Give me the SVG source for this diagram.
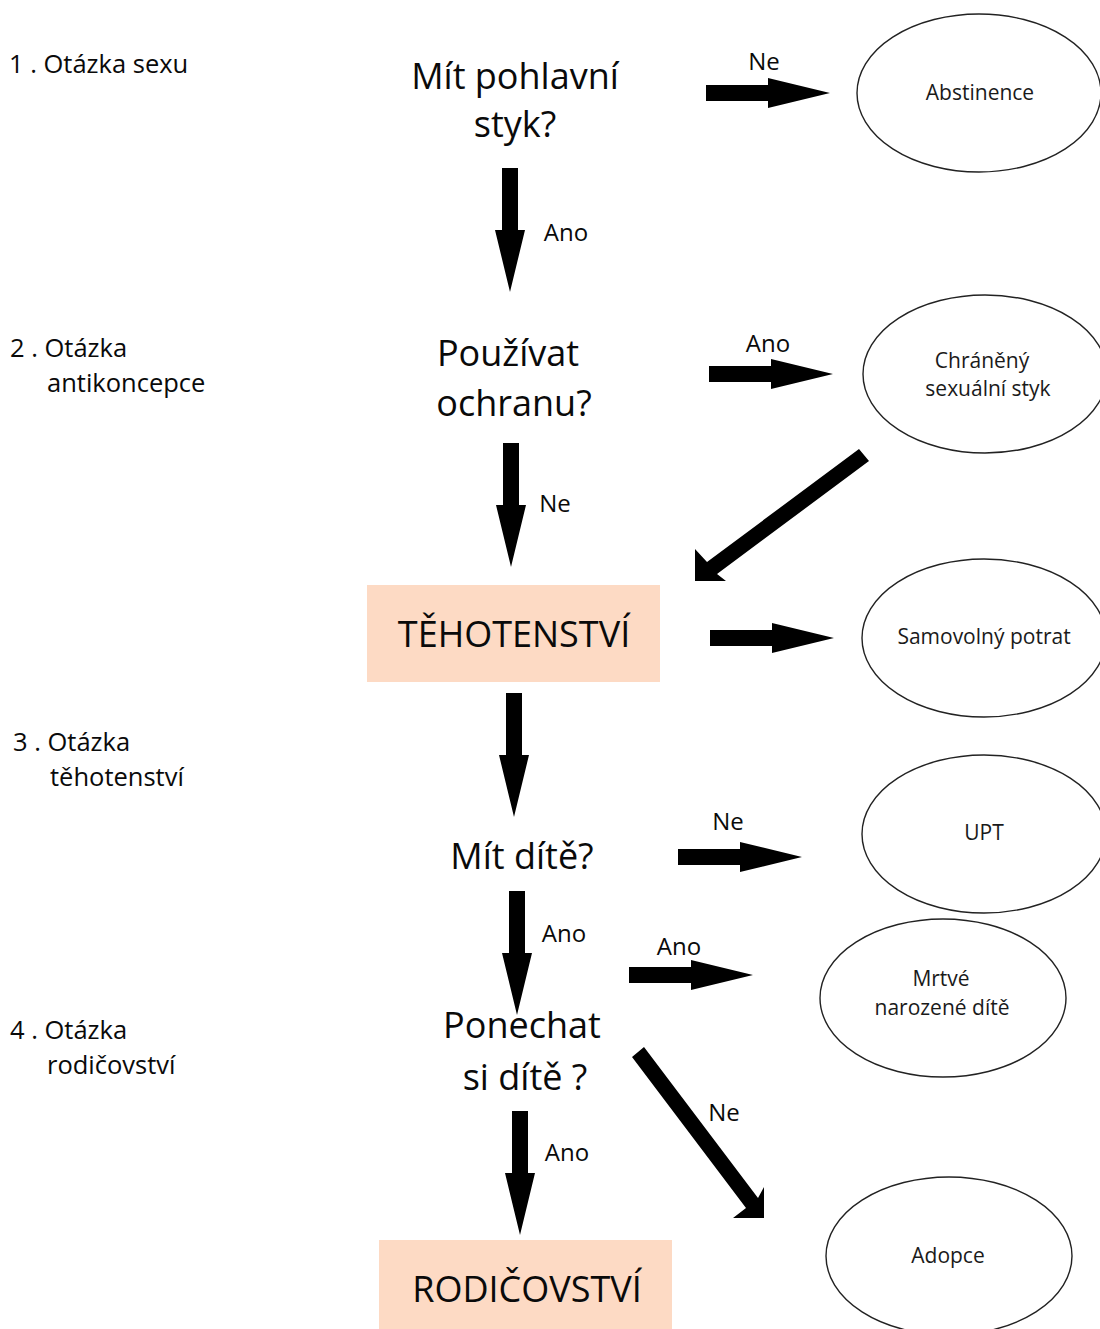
<svg xmlns="http://www.w3.org/2000/svg" xmlns:xlink="http://www.w3.org/1999/xlink" width="1100" height="1329" viewBox="0 0 1100 1329">
<style>
text{font-family:"Open Sans","Noto Sans",sans-serif;fill:#0a0a0a}
.side{font-size:25.5px;text-anchor:start}
.q{font-size:36px;text-anchor:middle}
.lbl{font-size:24px;text-anchor:middle}
.ell{fill:#fff;stroke:#222;stroke-width:1.4}
.et{font-size:21px;text-anchor:middle;fill:#1a1a1a}
.box{fill:#FDDAC4}
.arr{fill:#000}
</style>
<defs>
<path id="arr" d="M0,-8 H62 V-15 L124,0 L62,15 V8 H0 Z"/>
</defs>
<rect width="1100" height="1329" fill="#fff"/>

<g id="side-labels">
<text class="side" x="9" y="73">1 . Otázka sexu</text>
<text class="side" x="10" y="357">2 . Otázka</text>
<text class="side" x="47" y="392">antikoncepce</text>
<text class="side" x="13" y="751">3 . Otázka</text>
<text class="side" x="50" y="786">těhotenství</text>
<text class="side" x="10" y="1039">4 . Otázka</text>
<text class="side" x="47" y="1074">rodičovství</text>
</g>

<g id="q1"><text class="q" x="515" y="89">Mít pohlavní</text><text class="q" x="515" y="137">styk?</text></g>
<g id="q2"><text class="q" x="508" y="366">Používat</text><text class="q" x="514" y="416">ochranu?</text></g>
<g id="pregnancy"><rect class="box" x="367" y="585" width="293" height="97"/><text class="q" x="514" y="647">TĚHOTENSTVÍ</text></g>
<g id="q3"><text class="q" x="522" y="869">Mít dítě?</text></g>
<g id="q4"><text class="q" x="522" y="1038">Ponechat</text><text class="q" x="525" y="1090">si dítě ?</text></g>
<g id="parenthood"><rect class="box" x="379" y="1240" width="293" height="95"/><text class="q" x="527" y="1302">RODIČOVSTVÍ</text></g>

<g id="abstinence"><ellipse class="ell" cx="979" cy="93" rx="122" ry="79"/><text class="et" x="980" y="100">Abstinence</text></g>
<g id="protected"><ellipse class="ell" cx="985" cy="374" rx="122" ry="79"/><text class="et" x="982" y="368">Chráněný</text><text class="et" x="988" y="396">sexuální styk</text></g>
<g id="miscarriage"><ellipse class="ell" cx="984" cy="638" rx="122" ry="79"/><text class="et" x="984" y="644">Samovolný potrat</text></g>
<g id="upt"><ellipse class="ell" cx="984" cy="834" rx="122" ry="79"/><text class="et" x="984" y="840">UPT</text></g>
<g id="stillbirth"><ellipse class="ell" cx="943" cy="998" rx="123" ry="79"/><text class="et" x="941" y="986">Mrtvé</text><text class="et" x="942" y="1015">narozené dítě</text></g>
<g id="adoption"><ellipse class="ell" cx="949" cy="1256" rx="123" ry="79"/><text class="et" x="948" y="1263">Adopce</text></g>

<g id="connectors" class="arr">
<use xlink:href="#arr" transform="translate(706,93)"/>
<use xlink:href="#arr" transform="translate(510,168) rotate(90)"/>
<use xlink:href="#arr" transform="translate(709,374)"/>
<use xlink:href="#arr" transform="translate(511,443) rotate(90)"/>
<polygon points="859,449 869,461 717,574 726,581 695,581 695,549 707,562"/>
<use xlink:href="#arr" transform="translate(710,638)"/>
<use xlink:href="#arr" transform="translate(514,693) rotate(90)"/>
<use xlink:href="#arr" transform="translate(678,857)"/>
<use xlink:href="#arr" transform="translate(517,891) rotate(90)"/>
<use xlink:href="#arr" transform="translate(629,975)"/>
<polygon points="644,1047 758,1198 764,1187 764,1218 733,1218 746,1208 632,1057"/>
<use xlink:href="#arr" transform="translate(520,1111) rotate(90)"/>
<text class="lbl" x="764" y="70">Ne</text>
<text class="lbl" x="566" y="241">Ano</text>
<text class="lbl" x="768" y="352">Ano</text>
<text class="lbl" x="555" y="512">Ne</text>
<text class="lbl" x="728" y="830">Ne</text>
<text class="lbl" x="564" y="942">Ano</text>
<text class="lbl" x="679" y="955">Ano</text>
<text class="lbl" x="724" y="1121">Ne</text>
<text class="lbl" x="567" y="1161">Ano</text>
</g>
</svg>
